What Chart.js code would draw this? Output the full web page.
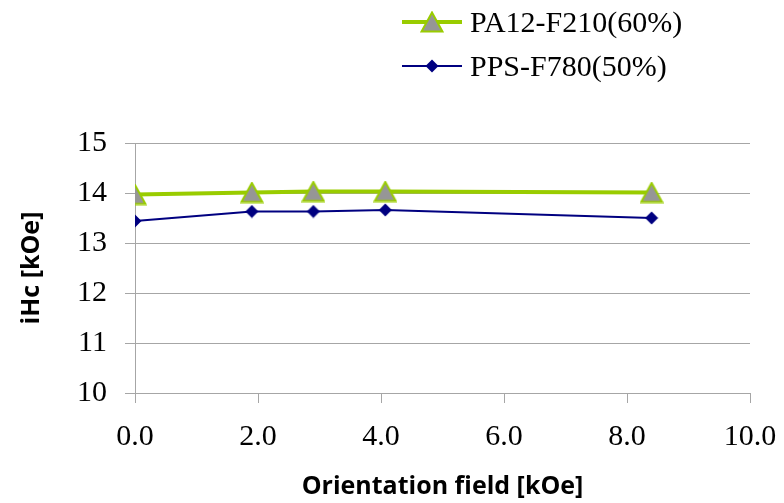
<!DOCTYPE html>
<html>
<head>
<meta charset="utf-8">
<script src="https://cdn.jsdelivr.net/npm/chart.js@4"></script>
<style>
html, body { margin: 0; padding: 0; background: #fff; }
#wrap { position: relative; width: 784px; height: 503px; }
#legend { position: absolute; left: 402px; top: 0; font: 30px "Liberation Serif", serif; color: #000; }
.row { display: flex; align-items: center; height: 44px; white-space: nowrap; }
.row canvas { margin-right: 8px; }
</style>
</head>
<body>
<div id="wrap">
  <canvas id="chart" width="784" height="503"></canvas>
  <div id="legend"></div>
</div>
<script>
// data
const orientField = [0.0, 1.9, 2.9, 4.07, 8.4];
const pa12 = [13.97, 14.01, 14.03, 14.03, 14.01];
const pps = [13.44, 13.63, 13.63, 13.66, 13.50];
const seriesNames = ['PA12-F210(60%)', 'PPS-F780(50%)'];
const xTicks = [0, 2, 4, 6, 8, 10];
const yTicks = [10, 11, 12, 13, 14, 15];

const GREEN = '#99cc00';
const NAVY = '#000080';
const GRID = '#a6a6a6';

// markers centred on their bounding box (like Excel)
function triangleMarker() {
    const c = document.createElement('canvas');
    c.width = 24; c.height = 22;
    const g = c.getContext('2d');
    g.beginPath();
    g.moveTo(12, 1.5); g.lineTo(22.5, 20.5); g.lineTo(1.5, 20.5); g.closePath();
    g.fillStyle = '#969696'; g.fill();
    g.lineWidth = 2; g.strokeStyle = GREEN; g.stroke();
    return c;
}
function diamondMarker() {
    const c = document.createElement('canvas');
    c.width = 14; c.height = 14;
    const g = c.getContext('2d');
    g.beginPath();
    g.moveTo(7, 0.5); g.lineTo(13.5, 7); g.lineTo(7, 13.5); g.lineTo(0.5, 7); g.closePath();
    g.fillStyle = NAVY; g.fill();
    return c;
}

const series = [
    { name: seriesNames[0], values: pa12, color: GREEN, width: 4, marker: triangleMarker },
    { name: seriesNames[1], values: pps, color: NAVY, width: 2, marker: diamondMarker }
];

// html legend, one entry per row
const legend = document.getElementById('legend');
series.forEach(s => {
    const row = document.createElement('div');
    row.className = 'row';
    const c = document.createElement('canvas');
    c.width = 60; c.height = 24;
    const g = c.getContext('2d');
    g.strokeStyle = s.color; g.lineWidth = s.width;
    g.beginPath(); g.moveTo(0, 12); g.lineTo(60, 12); g.stroke();
    const m = s.marker();
    g.drawImage(m, 30 - m.width / 2, 12 - m.height / 2);
    row.appendChild(c);
    row.appendChild(document.createTextNode(s.name));
    legend.appendChild(row);
});

const tickFont = { family: '"Liberation Serif", serif', size: 30 };
const titleFont = { family: '"Open Sans", sans-serif', size: 25, weight: 'bold' };

new Chart(document.getElementById('chart'), {
    type: 'line',
    data: {
        datasets: series.map(s => ({
            label: s.name,
            data: orientField.map((x, i) => ({ x: x, y: s.values[i] })),
            borderColor: s.color,
            backgroundColor: s.color,
            borderWidth: s.width,
            pointStyle: s.marker(),
            pointRadius: 8,
            tension: 0,
            fill: false
        }))
    },
    options: {
        responsive: false,
        animation: false,
        devicePixelRatio: 1,
        events: [],
        layout: { padding: { top: 143, right: 34, left: 0, bottom: 0 } },
        plugins: { legend: { display: false }, tooltip: { enabled: false } },
        scales: {
            x: {
                type: 'linear',
                min: 0, max: 10,
                afterBuildTicks: s => { s.ticks = xTicks.map(v => ({ value: v })); },
                afterFit: s => { s.height = 110; s.paddingRight = 0; s.paddingLeft = 0; },
                ticks: { font: tickFont, color: '#000', padding: 16, maxRotation: 0, callback: v => v.toFixed(1) },
                grid: { drawOnChartArea: false, tickLength: 10, color: GRID },
                border: { color: GRID },
                title: { display: true, text: 'Orientation field [kOe]', font: titleFont, color: '#000', padding: { top: 0, bottom: 1 } }
            },
            y: {
                min: 10, max: 15,
                afterBuildTicks: s => { s.ticks = yTicks.map(v => ({ value: v })); },
                afterFit: s => { s.width = 135; },
                ticks: { font: tickFont, color: '#000', padding: 18 },
                grid: { tickLength: 10, color: GRID },
                border: { color: GRID },
                title: { display: true, text: 'iHc [kOe]', font: titleFont, color: '#000', padding: { top: 17, bottom: 0 } }
            }
        }
    }
});
</script>
</body>
</html>
